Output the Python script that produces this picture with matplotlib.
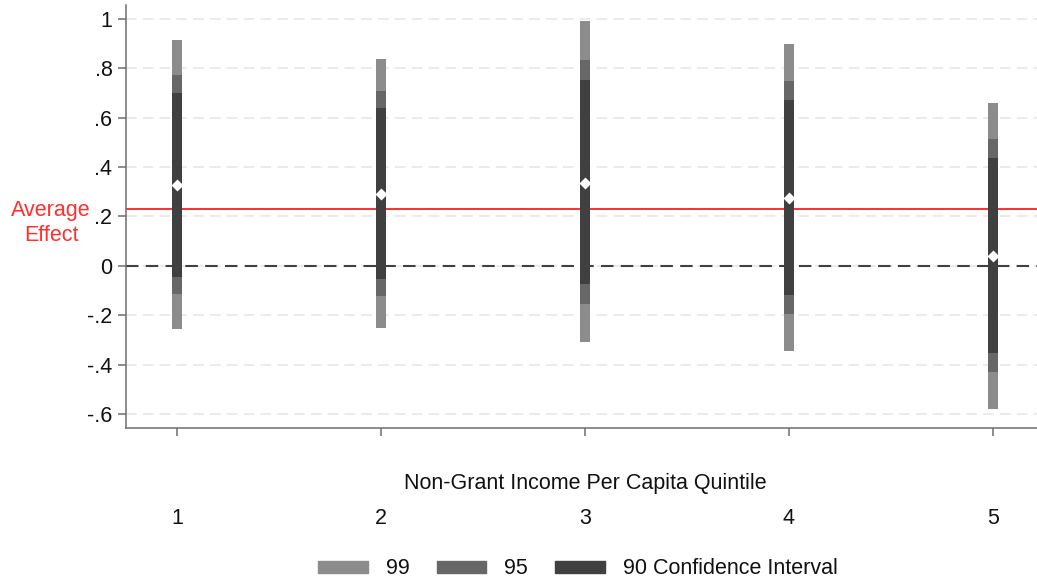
import matplotlib
matplotlib.use("Agg")
import matplotlib.pyplot as plt
import matplotlib.transforms as mtransforms
from matplotlib.patches import Patch

# Estimated effect by quintile with 90/95/99% confidence bounds
quintiles = [1, 2, 3, 4, 5]
point = [0.327, 0.291, 0.337, 0.276, 0.040]
ci90_lo = [-0.043, -0.053, -0.074, -0.117, -0.353]
ci90_hi = [0.700, 0.638, 0.752, 0.671, 0.435]
ci95_lo = [-0.115, -0.120, -0.155, -0.194, -0.430]
ci95_hi = [0.772, 0.707, 0.831, 0.747, 0.512]
ci99_lo = [-0.256, -0.249, -0.308, -0.342, -0.578]
ci99_hi = [0.913, 0.835, 0.990, 0.896, 0.660]
avg_effect = 0.229

yticks = [1, 0.8, 0.6, 0.4, 0.2, 0, -0.2, -0.4, -0.6]
yticklabels = ["1", ".8", ".6", ".4", ".2", "0", "-.2", "-.4", "-.6"]

c99, c95, c90 = "#8c8c8c", "#676767", "#404040"
red = "#ff3030"

plt.rcParams["font.family"] = ["Liberation Sans", "DejaVu Sans"]
plt.rcParams["font.size"] = 15.5

fig = plt.figure(figsize=(10.37, 5.83), dpi=100)
ax = fig.add_axes([126 / 1037, 155 / 583, 1 - 126 / 1037, (428 - 5) / 583])

# grid lines
for yv in yticks:
    ax.axhline(yv, color="#e6e6e6", lw=1.1, dashes=(7, 4), zorder=0)

ax.axhline(0, color="#404040", lw=1.5, dashes=(6, 3.5), zorder=1)
ax.axhline(avg_effect, color=red, lw=1.4, zorder=1)

bw = 7.2
ax.vlines(quintiles, ci99_lo, ci99_hi, color=c99, lw=bw, capstyle="butt", zorder=2)
ax.vlines(quintiles, ci95_lo, ci95_hi, color=c95, lw=bw, capstyle="butt", zorder=3)
ax.vlines(quintiles, ci90_lo, ci90_hi, color=c90, lw=bw, capstyle="butt", zorder=4)
ax.plot(quintiles, point, "D", color="white", ms=6, mec="none", zorder=5)

ax.set_xlim(0.75, 5.216)
ax.set_ylim(-0.655, 1.055)
ax.set_yticks(yticks)
ax.set_yticklabels(yticklabels)
ax.set_xticks(quintiles)
ax.set_xticklabels([str(q) for q in quintiles])

for s in ["top", "right"]:
    ax.spines[s].set_visible(False)
for s in ["left", "bottom"]:
    ax.spines[s].set_color("#6e6e6e")
    ax.spines[s].set_linewidth(1.1)
ax.tick_params(axis="both", color="#6e6e6e", length=5.8, width=1.1, labelcolor="#111111")
ax.tick_params(axis="y", pad=4)
ax.tick_params(axis="x", pad=52)

fig.text(585 / 1037, (583 - 484) / 583, "Non-Grant Income Per Capita Quintile",
         ha="center", va="center", color="#111111")

trans = mtransforms.blended_transform_factory(fig.transFigure, ax.transData)
ax.text(51 / 1037, 0.174, "Average\nEffect", transform=trans, ha="center", va="center",
        color=red, linespacing=1.2, clip_on=False)

handles = [Patch(color=c99, label="99"), Patch(color=c95, label="95"),
           Patch(color=c90, label="90 Confidence Interval")]
fig.legend(handles=handles, loc="center", bbox_to_anchor=(578 / 1037, 14 / 583), ncol=3,
           frameon=False, handlelength=2.3, handleheight=0.45, handletextpad=0.85,
           columnspacing=1.25, labelcolor="#111111")

fig.savefig("out.png", dpi=100)
